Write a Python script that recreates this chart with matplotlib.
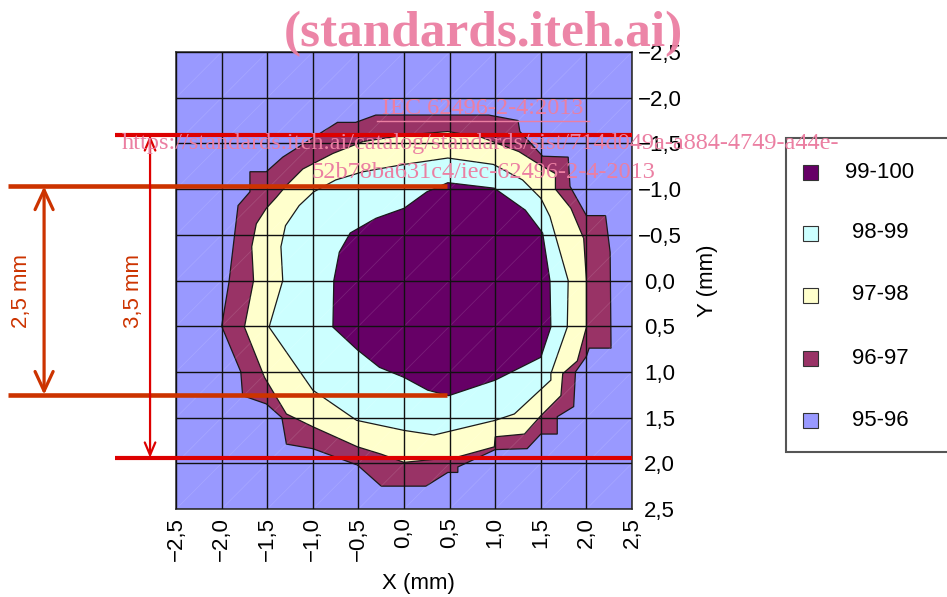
import numpy as np
import matplotlib
matplotlib.use('Agg')
import matplotlib.pyplot as plt
from matplotlib.patches import Polygon, Rectangle
from matplotlib.lines import Line2D

plt.rcParams['font.family'] = ['Liberation Sans', 'DejaVu Sans']

# ---------------- data ----------------
levels = ['99-100', '98-99', '97-98', '96-97', '95-96']
level_colors = ['#660066', '#CCFFFF', '#FFFFCC', '#993366', '#9999FF']

tick_values = [-2.5, -2.0, -1.5, -1.0, -0.5, 0.0, 0.5, 1.0, 1.5, 2.0, 2.5]
tick_labels = ['−2,5', '−2,0', '−1,5', '−1,0', '−0,5', '0,0', '0,5', '1,0', '1,5', '2,0', '2,5']

# outer edge of the 96-97 band (mm)
band96_x = [-1.92, -1.82, -1.69, -1.69, -1.51, -1.33, -0.89, -0.73, -0.53, -0.31, 0.93, 1.25,
            1.27, 1.52, 1.80, 1.82, 2.00, 2.21, 2.26, 2.27, 2.03, 2.00, 1.88, 1.86, 1.68, 1.68,
            1.50, 1.35, 1.00, 0.59, 0.59, 0.48, 0.24, -0.25, -0.51, -1.00, -1.29, -1.34, -1.51,
            -1.77, -1.79, -2.00]
band96_y = [0.02, -0.82, -0.97, -1.19, -1.19, -1.35, -1.63, -1.73, -1.73, -1.81, -1.81, -1.75,
            -1.63, -1.36, -1.35, -1.03, -0.71, -0.71, -0.31, 0.74, 0.74, 0.83, 1.00, 1.38, 1.49,
            1.68, 1.68, 1.84, 1.85, 2.04, 2.10, 2.10, 2.25, 2.25, 2.02, 1.84, 1.79, 1.50, 1.35,
            1.26, 1.00, 0.50]

# outer edge of the 97-98 band (mm)
band97_x = [-1.65, -1.67, -1.62, -1.51, -1.40, -1.29, -1.11, -0.78, -0.45, 0.00, 0.48, 0.84,
            1.26, 1.50, 1.66, 1.66, 1.83, 1.97, 2.00, 2.00, 1.90, 1.74, 1.72, 1.50, 1.32, 1.00,
            0.99, 0.59, 0.00, -0.25, -0.51, -1.00, -1.29, -1.53, -1.75]
band97_y = [0.00, -0.37, -0.62, -0.79, -0.91, -1.04, -1.22, -1.39, -1.52, -1.59, -1.63, -1.57,
            -1.41, -1.26, -1.17, -1.00, -0.79, -0.46, 0.00, 0.51, 0.88, 1.02, 1.26, 1.48, 1.68,
            1.71, 1.82, 1.93, 1.99, 1.90, 1.82, 1.60, 1.46, 1.06, 0.51]

# outer edge of the 98-99 band (mm)
band98_x = [-1.33, -1.35, -1.30, -1.15, -0.99, -0.75, -0.45, 0.00, 0.48, 0.98, 1.30, 1.50,
            1.60, 1.70, 1.80, 1.79, 1.61, 1.61, 1.21, 1.00, 0.33, 0.00, -0.52, -1.00, -1.48]
band98_y = [0.00, -0.37, -0.60, -0.82, -0.97, -1.10, -1.19, -1.27, -1.34, -1.27, -1.10, -0.90,
            -0.70, -0.35, 0.00, 0.51, 1.02, 1.09, 1.46, 1.53, 1.69, 1.64, 1.53, 1.20, 0.51]

# outer edge of the 99-100 region (mm)
band99_x = [-0.77, -0.71, -0.59, -0.31, 0.00, 0.25, 0.48, 0.99, 1.33, 1.52, 1.60, 1.61, 1.50,
            1.00, 0.49, 0.26, 0.00, -0.27, -0.51, -0.78]
band99_y = [0.00, -0.31, -0.52, -0.68, -0.79, -0.97, -1.07, -1.01, -0.77, -0.52, 0.00, 0.51,
            0.84, 1.09, 1.26, 1.20, 1.06, 0.95, 0.76, 0.51]

# dimension lines (mm)
dim35_y = [-1.59, 1.94]
dim25_y = [-1.03, 1.25]
dim35_x_range = [-3.17, 2.5]
dim25_x_range = [-4.34, 0.47]
dim35_arrow_x = -2.785
dim25_arrow_x = -3.947

# ---------------- figure ----------------
fig = plt.figure(figsize=(9.47, 5.97), dpi=100)
ax = fig.add_axes([0.1859, 0.1474, 0.4815, 0.7655])
ax.set_facecolor(level_colors[4])
ax.set_xlim(-2.5, 2.5)
ax.set_ylim(2.5, -2.5)

bands = [(band96_x, band96_y, level_colors[3]),
         (band97_x, band97_y, level_colors[2]),
         (band98_x, band98_y, level_colors[1]),
         (band99_x, band99_y, level_colors[0])]
for i, (bx, by, col) in enumerate(bands):
    ax.add_patch(Polygon(np.column_stack([bx, by]), closed=True, facecolor=col,
                         edgecolor='#1a1a1a', lw=0.9, zorder=1 + i * 0.1))

# faint triangulation diagonals
for c in np.arange(-4.5, 5.0, 0.5):
    ax.plot([-2.5, 2.5], [c + 2.5, c - 2.5], color='white', alpha=0.12, lw=0.6, zorder=1.8)

ax.set_xticks(tick_values, labels=tick_labels, rotation=90)
ax.set_yticks(tick_values, labels=tick_labels, ha='center')
ax.yaxis.tick_right()
ax.tick_params(axis='x', length=0, pad=6, labelsize=16)
ax.tick_params(axis='y', length=0, pad=20, labelsize=16)
for lab in ax.get_yticklabels():
    lab.set_horizontalalignment('center')
ax.grid(True, color='#111111', lw=1.0)
ax.set_axisbelow(False)
for s in ax.spines.values():
    s.set_color('#333333')
    s.set_linewidth(1.2)

ax.set_xlabel('X (mm)', fontsize=16, va='center')
ax.xaxis.set_label_coords(0.532, -0.162)
ax.yaxis.set_label_position('right')
ax.set_ylabel('Y (mm)', fontsize=16, rotation=90, va='center', ha='center',
              rotation_mode='anchor')
ax.yaxis.set_label_coords(1.1645, 0.5)

# dimension lines
red = '#dd0000'
orange = '#cc3300'
for yv in dim35_y:
    ax.plot(dim35_x_range, [yv, yv], color=red, lw=3.0, clip_on=False, zorder=5,
            solid_capstyle='butt')
for yv in dim25_y:
    ax.plot(dim25_x_range, [yv, yv], color=orange, lw=3.3, clip_on=False, zorder=5,
            solid_capstyle='butt')
ax.annotate('', xy=(dim35_arrow_x, dim35_y[0]), xytext=(dim35_arrow_x, dim35_y[1]),
            arrowprops=dict(arrowstyle='<->, head_length=0.9, head_width=0.38', color=red,
                            lw=1.6, shrinkA=0, shrinkB=0),
            annotation_clip=False, zorder=5)
ax.annotate('', xy=(dim25_arrow_x, dim25_y[0]), xytext=(dim25_arrow_x, dim25_y[1]),
            arrowprops=dict(arrowstyle='<->, head_length=1.4, head_width=0.65', color=orange,
                            lw=2.3, shrinkA=0, shrinkB=0),
            annotation_clip=False, zorder=5)
ax.text(-4.20, 0.115, '2,5 mm', rotation=90, ha='center', va='center', fontsize=16,
        color=orange, clip_on=False)
ax.text(-2.97, 0.115, '3,5 mm', rotation=90, ha='center', va='center', fontsize=16,
        color=orange, clip_on=False)

# legend (drawn manually)
W, H = 947.0, 597.0
fig.patches.append(Rectangle((786 / W, 1 - 452 / H), 0.2, (452 - 138) / H,
                             transform=fig.transFigure, facecolor='white',
                             edgecolor='#555555', lw=1.5, zorder=0))
leg_y = [172, 233, 295, 358, 420]
for lbl, col, py in zip(levels, level_colors, leg_y):
    sw, sh = 15 / W, 15 / H
    fig.patches.append(Rectangle((810 / W - sw / 2, 1 - py / H - sh / 2), sw, sh,
                                 transform=fig.transFigure, facecolor=col,
                                 edgecolor='#333333', lw=0.8))
    fig.text(880 / W, 1 - py / H, lbl, ha='center', va='center', fontsize=16)

# watermark
pink = '#eb7fa2'
fig.text(483 / W, 1 - 34.5 / H, '(standards.iteh.ai)', family='Liberation Serif',
         weight='bold', fontsize=37, color=pink, ha='center', va='center', zorder=10,
         alpha=0.95)
fig.text(483 / W, 1 - 108.5 / H, 'IEC 62496-2-4:2013', family='Liberation Serif',
         fontsize=17.5, color=pink, ha='center', va='center', zorder=10)
fig.add_artist(Line2D([377 / W, 589 / W], [1 - 121 / H, 1 - 121 / H], color=pink, lw=1,
                      zorder=10))
fig.text(481 / W, 1 - 144 / H,
         'https://standards.iteh.ai/catalog/standards/sist/714d049a-a884-4749-a44e-',
         family='Liberation Serif', fontsize=17.5, color=pink, ha='center', va='center',
         zorder=10)
fig.text(483 / W, 1 - 173 / H, '52b78ba631c4/iec-62496-2-4-2013', family='Liberation Serif',
         fontsize=17.5, color=pink, ha='center', va='center', zorder=10)

fig.savefig('out.png', dpi=100)
